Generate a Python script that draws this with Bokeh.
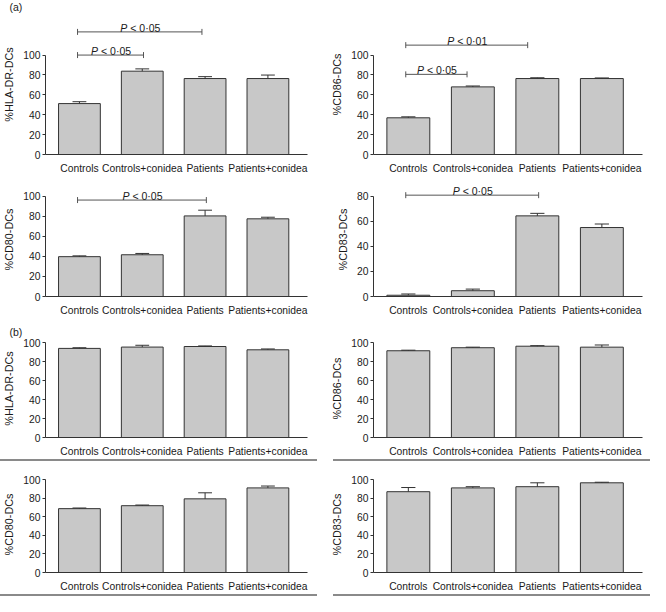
import math
from bokeh.plotting import figure
from bokeh.layouts import column, row
from bokeh.models import FixedTicker, Div, ColumnDataSource, Range1d
from bokeh.embed import file_html
from bokeh.resources import INLINE
from bokeh.core.properties import value

# ---------------- data ----------------
categories = ["Controls", "Controls+conidea", "Patients", "Patients+conidea"]

a_hla = [51.2, 83.8, 76.4, 76.4]
a_hla_err = [1.9, 2.3, 1.9, 3.5]
a_cd86 = [36.9, 68.0, 76.4, 76.4]
a_cd86_err = [1.0, 0.9, 0.8, 0.6]
a_cd80 = [39.7, 41.6, 80.3, 77.4]
a_cd80_err = [0.8, 1.3, 5.7, 1.6]
a_cd83 = [1.0, 4.6, 64.3, 55.0]
a_cd83_err = [1.0, 1.3, 2.0, 2.8]

b_hla = [94.2, 95.6, 96.2, 92.7]
b_hla_err = [0.7, 1.9, 0.6, 0.9]
b_cd86 = [91.7, 94.9, 96.5, 95.5]
b_cd86_err = [0.6, 0.6, 0.6, 2.3]
b_cd80 = [68.9, 72.1, 79.5, 91.3]
b_cd80_err = [0.7, 0.7, 6.5, 2.0]
b_cd83 = [87.2, 91.3, 92.6, 96.8]
b_cd83_err = [4.5, 1.3, 4.2, 0.6]

ticks_100 = [0, 20, 40, 60, 80, 100]
ticks_80 = [0, 20, 40, 60, 80]

# significance brackets: start/end (category index), level, p text
hla_br_x0 = [-0.03, -0.03]
hla_br_x1 = [1.02, 1.95]
hla_br_y = [100, 123.3]
hla_br_p = ["< 0·05", "< 0·05"]

cd86_br_x0 = [-0.04, -0.04]
cd86_br_x1 = [0.91, 1.85]
cd86_br_y = [80.6, 110]
cd86_br_p = ["< 0·05", "< 0·01"]

cd80_br_x0 = [-0.03]
cd80_br_x1 = [2.02]
cd80_br_y = [96.1]
cd80_br_p = ["< 0·05"]

cd83_br_x0 = [-0.04]
cd83_br_x1 = [2.02]
cd83_br_y = [80.8]
cd83_br_p = ["< 0·05"]

# ---------------- style ----------------
FONT = "Liberation Sans"
BAR_FILL = "#c8c8c8"
DARK = "#333333"
BR_COL = "#555555"
TXT = "#1a1a1a"


def make_panel(vals, errs, ylabel, width, height, bl, br, bt, bb, ymax, yticks,
               brackets=None, tag=None):
    p = figure(width=width, height=height, output_backend="svg", toolbar_location=None,
               x_range=Range1d(-0.54, 3.63), y_range=Range1d(0, ymax),
               min_border_left=bl, min_border_right=br, min_border_top=bt,
               min_border_bottom=bb, outline_line_color=None,
               background_fill_color=None, border_fill_color=None)
    p.grid.visible = False
    xs = list(range(len(categories)))
    src = ColumnDataSource(dict(
        x=xs, top=vals,
        up=[v + e for v, e in zip(vals, errs)],
        cl=[x - 0.11 for x in xs], cr=[x + 0.11 for x in xs]))
    p.vbar(x="x", top="top", bottom=0, width=0.665, source=src,
           fill_color=BAR_FILL, line_color=DARK, line_width=1)
    p.segment(x0="x", y0="top", x1="x", y1="up", source=src,
              line_color=DARK, line_width=1)
    p.segment(x0="cl", y0="up", x1="cr", y1="up", source=src,
              line_color=DARK, line_width=1)

    xa = p.xaxis[0]
    xa.ticker = FixedTicker(ticks=xs)
    xa.major_label_overrides = {i: c for i, c in enumerate(categories)}
    xa.major_tick_line_color = None
    xa.minor_tick_line_color = None
    xa.axis_line_color = DARK
    xa.major_label_standoff = 2
    xa.major_label_text_font = FONT
    xa.major_label_text_font_size = "10.3px"
    xa.major_label_text_color = TXT

    ya = p.yaxis[0]
    ya.ticker = FixedTicker(ticks=yticks)
    ya.bounds = (0, yticks[-1])
    ya.major_tick_out = 3
    ya.major_tick_in = 0
    ya.minor_tick_line_color = None
    ya.axis_line_color = DARK
    ya.major_tick_line_color = DARK
    ya.major_label_standoff = 2
    ya.major_label_text_font = FONT
    ya.major_label_text_font_size = "10.3px"
    ya.major_label_text_color = TXT
    ya.axis_label = ylabel
    ya.axis_label_text_font = FONT
    ya.axis_label_text_font_style = "normal"
    ya.axis_label_text_font_size = "10.8px"
    ya.axis_label_text_color = TXT
    ya.axis_label_standoff = 5

    if brackets is not None:
        bx0, bx1, by, bp = brackets
        bsrc = ColumnDataSource(dict(
            x0=bx0, x1=bx1, y=by, xm=[(a + b) / 2 for a, b in zip(bx0, bx1)],
            ptxt=["P"] * len(by), rest=bp))
        p.segment(x0="x0", y0="y", x1="x1", y1="y", source=bsrc,
                  line_color=BR_COL, line_width=1)
        p.scatter(x="x0", y="y", source=bsrc, marker="dash", angle=math.pi / 2,
                  size=6, line_color=BR_COL, line_width=1)
        p.scatter(x="x1", y="y", source=bsrc, marker="dash", angle=math.pi / 2,
                  size=6, line_color=BR_COL, line_width=1)
        p.text(x="xm", y="y", text="ptxt", source=bsrc, x_offset=-19.5, y_offset=-4,
               text_font=value(FONT), text_font_style="italic",
               text_font_size="10.5px", text_color=TXT,
               text_align="left", text_baseline="alphabetic")
        p.text(x="xm", y="y", text="rest", source=bsrc, x_offset=-9.5, y_offset=-4,
               text_font=value(FONT), text_font_size="10.5px", text_color=TXT,
               text_align="left", text_baseline="alphabetic")

    if tag is not None:
        p.title.text = tag
        p.title.align = "left"
        p.title.offset = 3 - bl
        p.title.standoff = 0
        p.title.vertical_align = "top"
        p.title.text_font = FONT
        p.title.text_font_style = "normal"
        p.title.text_font_size = "10.5px"
        p.title.text_color = TXT
    return p


W = 325
LB, LR = 39, 18   # left column borders
RB, RR = 48, 8    # right column borders

f1 = make_panel(a_hla, a_hla_err, "%HLA-DR-DCs", W, 176, LB, LR, 12, 22, 140.8, ticks_100,
                (hla_br_x0, hla_br_x1, hla_br_y, hla_br_p), tag="(a)")
f2 = make_panel(a_cd86, a_cd86_err, "%CD86-DCs", W, 176, RB, RR, 12, 22, 140.8, ticks_100,
                (cd86_br_x0, cd86_br_x1, cd86_br_y, cd86_br_p))
f3 = make_panel(a_cd80, a_cd80_err, "%CD80-DCs", W, 146, LB, LR, 6, 26, 113.6, ticks_100,
                (cd80_br_x0, cd80_br_x1, cd80_br_y, cd80_br_p))
f4 = make_panel(a_cd83, a_cd83_err, "%CD83-DCs", W, 146, RB, RR, 6, 26, 90.9, ticks_80,
                (cd83_br_x0, cd83_br_x1, cd83_br_y, cd83_br_p))
f5 = make_panel(b_hla, b_hla_err, "%HLA-DR-DCs", W, 137, LB, LR, 17, 14, 103.6, ticks_100,
                tag="(b)")
f6 = make_panel(b_cd86, b_cd86_err, "%CD86-DCs", W, 137, RB, RR, 17, 14, 103.6, ticks_100)
f7 = make_panel(b_cd80, b_cd80_err, "%CD80-DCs", W, 133, LB, LR, 15, 14, 103.6, ticks_100)
f8 = make_panel(b_cd83, b_cd83_err, "%CD83-DCs", W, 133, RB, RR, 15, 14, 103.6, ticks_100)


def separator():
    return row(
        Div(width=317, height=2, margin=0, styles={"background-color": "#8a8a8a"}),
        Div(width=16, height=2, margin=0),
        Div(width=317, height=2, margin=0, styles={"background-color": "#8a8a8a"}),
    )


layout = column(row(f1, f2), row(f3, f4), row(f5, f6), separator(),
                row(f7, f8), separator())

open("out.html", "w").write(file_html(layout, INLINE))
